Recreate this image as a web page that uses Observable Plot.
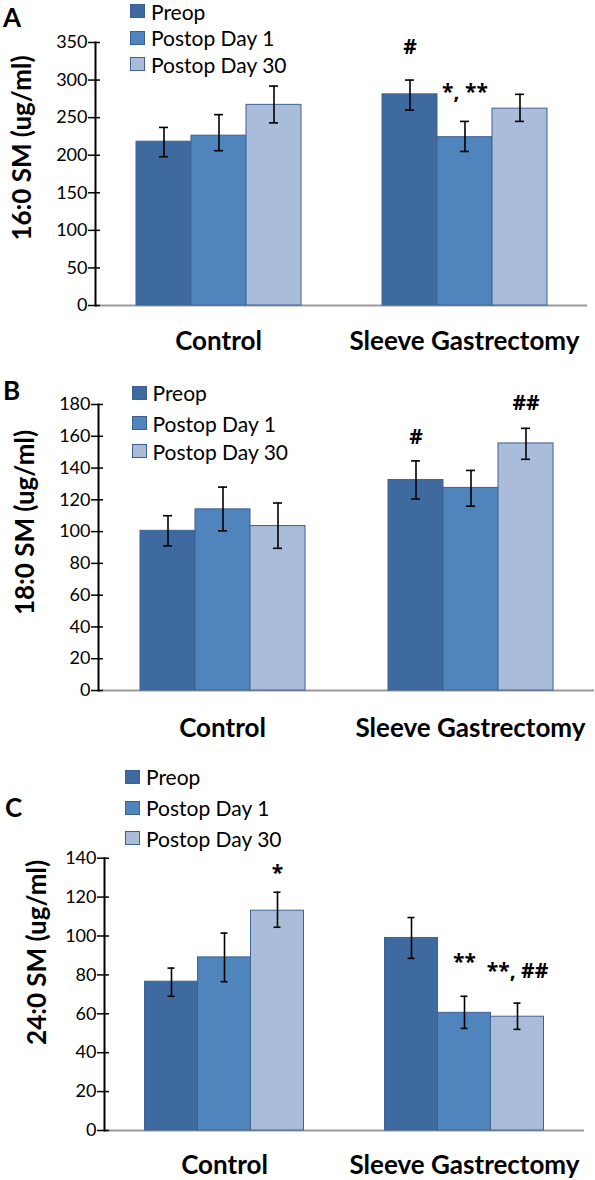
<!DOCTYPE html>
<html><head><meta charset="utf-8">
<script src="https://cdn.jsdelivr.net/npm/d3@7"></script>
<script src="https://cdn.jsdelivr.net/npm/@observablehq/plot@0.6"></script>
<style>
body{margin:0;background:#fff;font-family:Lato, sans-serif;}
#wrap{position:relative;width:595px;height:1180px;overflow:hidden;background:#fff;}
.panel{position:absolute;left:0;}
.letter{position:absolute;font-weight:bold;font-size:26px;line-height:26px;}
.row{position:absolute;display:flex;align-items:center;white-space:nowrap;font-size:21px;line-height:21px;height:21px;}
.sw{width:15px;height:14px;box-sizing:border-box;border:1px solid #3d6090;margin-right:6px;}
</style></head><body><div id="wrap"></div>
<script>
const groups = ["Control", "Sleeve Gastrectomy"];
const series = ["Preop", "Postop Day 1", "Postop Day 30"];
const colors = ["#3f6a9f", "#4f84bd", "#a9bcd9"];

// Panel A: 16:0 SM (Control: Preop, Day1, Day30; Sleeve: Preop, Day1, Day30)
const aMean = [218, 226, 267, 281, 224, 262];
const aLow  = [198, 206, 243, 260, 205, 245];
const aHigh = [237, 254, 292, 300, 245, 281];
const aTicks = [0, 50, 100, 150, 200, 250, 300, 350];
const aNoteGroup = ["Sleeve Gastrectomy", "Sleeve Gastrectomy"];
const aNoteSeries = ["Preop", "Postop Day 1"];
const aNoteText = ["#", "*, **"];
const aNoteY = [343, 283.5];

// Panel B: 18:0 SM
const bMean = [100.5, 114, 103.5, 132.5, 127.5, 155.5];
const bLow  = [91, 100.5, 89.5, 120.5, 116, 145.5];
const bHigh = [110, 128, 118, 144.5, 138.5, 165];
const bTicks = [0, 20, 40, 60, 80, 100, 120, 140, 160, 180];
const bNoteGroup = ["Sleeve Gastrectomy", "Sleeve Gastrectomy"];
const bNoteSeries = ["Preop", "Postop Day 30"];
const bNoteText = ["#", "##"];
const bNoteY = [159.4, 180.8];

// Panel C: 24:0 SM
const cMean = [76.5, 89, 113, 99, 60.5, 58.5];
const cLow  = [69, 76.5, 104.5, 88.5, 52.5, 52];
const cHigh = [83.5, 101.5, 122.5, 109.5, 69, 65.5];
const cTicks = [0, 20, 40, 60, 80, 100, 120, 140];
const cNoteGroup = ["Control", "Sleeve Gastrectomy", "Sleeve Gastrectomy"];
const cNoteSeries = ["Postop Day 30", "Postop Day 1", "Postop Day 30"];
const cNoteText = ["*", "**", "**, ##"];
const cNoteY = [132.3, 86.4, 81.7];

const wrap = document.getElementById("wrap");

function panel(cfg) {
  const rows = [];
  groups.forEach((g, i) => series.forEach((s, j) => {
    const k = i * series.length + j;
    rows.push({g, s, v: cfg.mean[k], lo: cfg.low[k], hi: cfg.high[k]});
  }));
  const notes = cfg.noteText.map((t, i) => ({g: cfg.noteGroup[i], s: cfg.noteSeries[i], label: t, y: cfg.noteY[i]}));
  const chart = Plot.plot({
    width: 595, height: cfg.height,
    marginTop: cfg.mt, marginBottom: cfg.mb, marginLeft: cfg.ml, marginRight: cfg.mr,
    style: {fontFamily: "Lato, sans-serif", color: "#000", background: "transparent", overflow: "visible"},
    fx: {domain: groups, padding: 0},
    x: {domain: series, paddingInner: 0, paddingOuter: 0.736, axis: null},
    y: {domain: [cfg.ticks[0], cfg.ticks[cfg.ticks.length - 1]]},
    color: {domain: series, range: colors},
    marks: [
      Plot.ruleY([0], {stroke: "#9a9a9a", strokeWidth: 2}),
      Plot.barY(rows, {fx: "g", x: "s", y: "v", fill: "s", stroke: "#3e6293", strokeWidth: 1}),
      Plot.ruleX(rows, {fx: "g", x: "s", y1: "lo", y2: "hi", stroke: "#000", strokeWidth: 1.6}),
      Plot.tickY(rows, {fx: "g", x: "s", y: "lo", insetLeft: 23, insetRight: 23, stroke: "#000", strokeWidth: 1.6}),
      Plot.tickY(rows, {fx: "g", x: "s", y: "hi", insetLeft: 23, insetRight: 23, stroke: "#000", strokeWidth: 1.6}),
      Plot.text(notes, {fx: "g", x: "s", y: "y", text: "label", fontSize: 21, fontWeight: "bold", fontFamily: "Open Sans, sans-serif", fill: "#000"}),
      Plot.frame({anchor: "left", fx: () => groups[0], stroke: "#000", strokeWidth: 2}),
      Plot.axisY({ticks: cfg.ticks, tickSize: 12, dx: 5, tickPadding: 1, fontSize: 18, label: null, strokeWidth: 1.5}),
      Plot.axisFx({anchor: "bottom", tickSize: 0, tickPadding: cfg.fxPad, fontSize: 26, fontWeight: "bold", label: null}),
      Plot.text([cfg.title], {fx: () => groups[0], text: d => d, frameAnchor: "left", textAnchor: "middle", rotate: -90, dx: cfg.tdx, dy: cfg.tdy, fontSize: 26, fontWeight: "bold", fill: "#000"})
    ]
  });
  const holder = document.createElement("div");
  holder.className = "panel";
  holder.style.top = cfg.top + "px";
  holder.appendChild(chart);
  wrap.appendChild(holder);

  const letter = document.createElement("div");
  letter.className = "letter";
  letter.textContent = cfg.letter;
  letter.style.left = cfg.letterX + "px";
  letter.style.top = (cfg.letterY - 13) + "px";
  wrap.appendChild(letter);

  series.forEach((s, j) => {
    const row = document.createElement("div");
    row.className = "row";
    row.style.left = cfg.legX + "px";
    row.style.top = (cfg.legY[j] - 10.5) + "px";
    const sw = document.createElement("span");
    sw.className = "sw";
    sw.style.background = colors[j];
    const tx = document.createElement("span");
    tx.textContent = s;
    row.appendChild(sw);
    row.appendChild(tx);
    wrap.appendChild(row);
  });
}

panel({top: 0, height: 365, mt: 42, mb: 60, ml: 95, mr: 8, ticks: aTicks, title: "16:0 SM (ug/ml)", fxPad: 26,
  mean: aMean, low: aLow, high: aHigh, noteGroup: aNoteGroup, noteSeries: aNoteSeries, noteText: aNoteText, noteY: aNoteY,
  tdx: -72.5, tdy: -26, letter: "A", letterX: 3, letterY: 17, legX: 130, legY: [11, 37.5, 64]});
panel({top: 375, height: 375, mt: 29, mb: 60, ml: 98, mr: 1, ticks: bTicks, title: "18:0 SM (ug/ml)", fxPad: 28,
  mean: bMean, low: bLow, high: bHigh, noteGroup: bNoteGroup, noteSeries: bNoteSeries, noteText: bNoteText, noteY: bNoteY,
  tdx: -73, tdy: -25, letter: "B", letterX: 3, letterY: 390, legX: 131.5, legY: [392.5, 423, 451.3]});
panel({top: 760, height: 420, mt: 97.7, mb: 50, ml: 103.5, mr: 10, ticks: cTicks, title: "24:0 SM (ug/ml)", fxPad: 25,
  mean: cMean, low: cLow, high: cHigh, noteGroup: cNoteGroup, noteSeries: cNoteSeries, noteText: cNoteText, noteY: cNoteY,
  tdx: -67, tdy: -42, letter: "C", letterX: 5, letterY: 806.5, legX: 125, legY: [776.7, 807.5, 838.2]});
</script>
</body></html>
